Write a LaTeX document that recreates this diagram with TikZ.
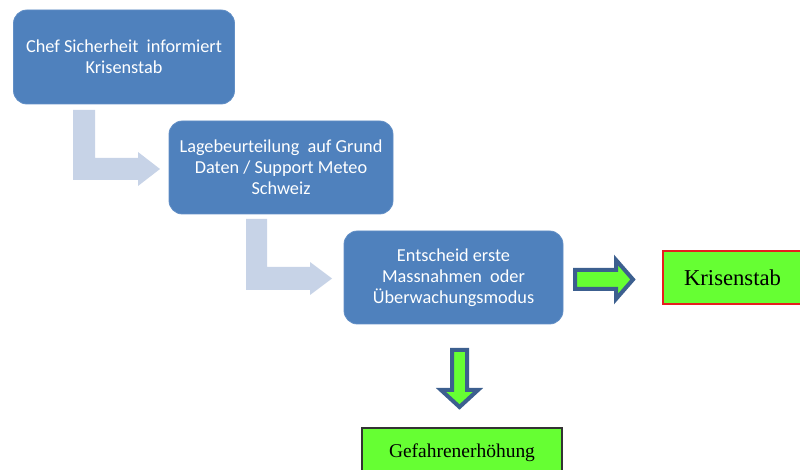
\documentclass[tikz,border=0pt]{standalone}
\usepackage{fontspec}
\setmainfont{Liberation Serif}
\newfontfamily\boxfont{Carlito}
\definecolor{boxblue}{RGB}{79,129,189}
\definecolor{boxedge}{RGB}{98,143,198}
\definecolor{lightarrow}{RGB}{199,211,231}
\definecolor{darkarrow}{RGB}{60,95,143}
\definecolor{brightgreen}{RGB}{102,255,51}
\definecolor{redline}{RGB}{230,30,30}
\begin{document}
\begin{tikzpicture}[x=0.75pt,y=-0.75pt,
  bluebox/.style={rectangle, rounded corners=10pt, fill=boxblue, draw=boxedge, line width=0.6pt,
    text=white, align=center, inner sep=2pt,
    font=\boxfont\fontsize{13.7}{15.75}\selectfont},
  greenbox/.style={rectangle, fill=brightgreen, line width=0.8pt, inner sep=2pt,
    text=black},
  bentarrow/.style={fill=lightarrow},
  blockarrow/.style={fill=brightgreen, draw=darkarrow, line width=3pt, line join=miter}]
\useasboundingbox (0,0) rectangle (800,470);
% boxes
\node[bluebox, minimum width=165.75pt, minimum height=70.5pt] (b1) at (124,57)
  {Chef Sicherheit\ \ informiert\\Krisenstab};
\node[bluebox, minimum width=168pt, minimum height=69.75pt] (b2) at (281,167.5)
  {Lagebeurteilung\ \ auf Grund\\Daten / Support Meteo\\Schweiz};
\node[bluebox, minimum width=164.25pt, minimum height=69.75pt] (b3) at (453.5,277.5)
  {Entscheid erste\\Massnahmen\ \ oder\\Überwachungsmodus};
\node[greenbox, draw=redline, minimum width=104.25pt, minimum height=39.75pt,
  font=\fontsize{17}{20}\selectfont] (k) at (732.5,277.5) {Krisenstab};
\node[greenbox, draw=black!80, minimum width=150pt, minimum height=37.5pt,
  font=\fontsize{14.6}{17}\selectfont] (g) at (462,453) {Gefahrenerhöhung};
% bent arrows
\fill[bentarrow] (73,110) -- (95,110) -- (95,158) -- (138,158) -- (138,152) -- (160,169)
  -- (138,186) -- (138,180) -- (73,180) -- cycle;
\fill[bentarrow] (246,219) -- (267,219) -- (267,267) -- (310,267) -- (310,262) -- (332,278.5)
  -- (310,295) -- (310,290) -- (246,290) -- cycle;
% block arrows
\draw[blockarrow] (575,270) -- (616,270) -- (616,260) -- (633,279.5) -- (616,299)
  -- (616,289) -- (575,289) -- cycle;
\draw[blockarrow] (452,350) -- (467,350) -- (467,390) -- (478,390) -- (459.5,407)
  -- (441,390) -- (452,390) -- cycle;
\end{tikzpicture}
\end{document}
